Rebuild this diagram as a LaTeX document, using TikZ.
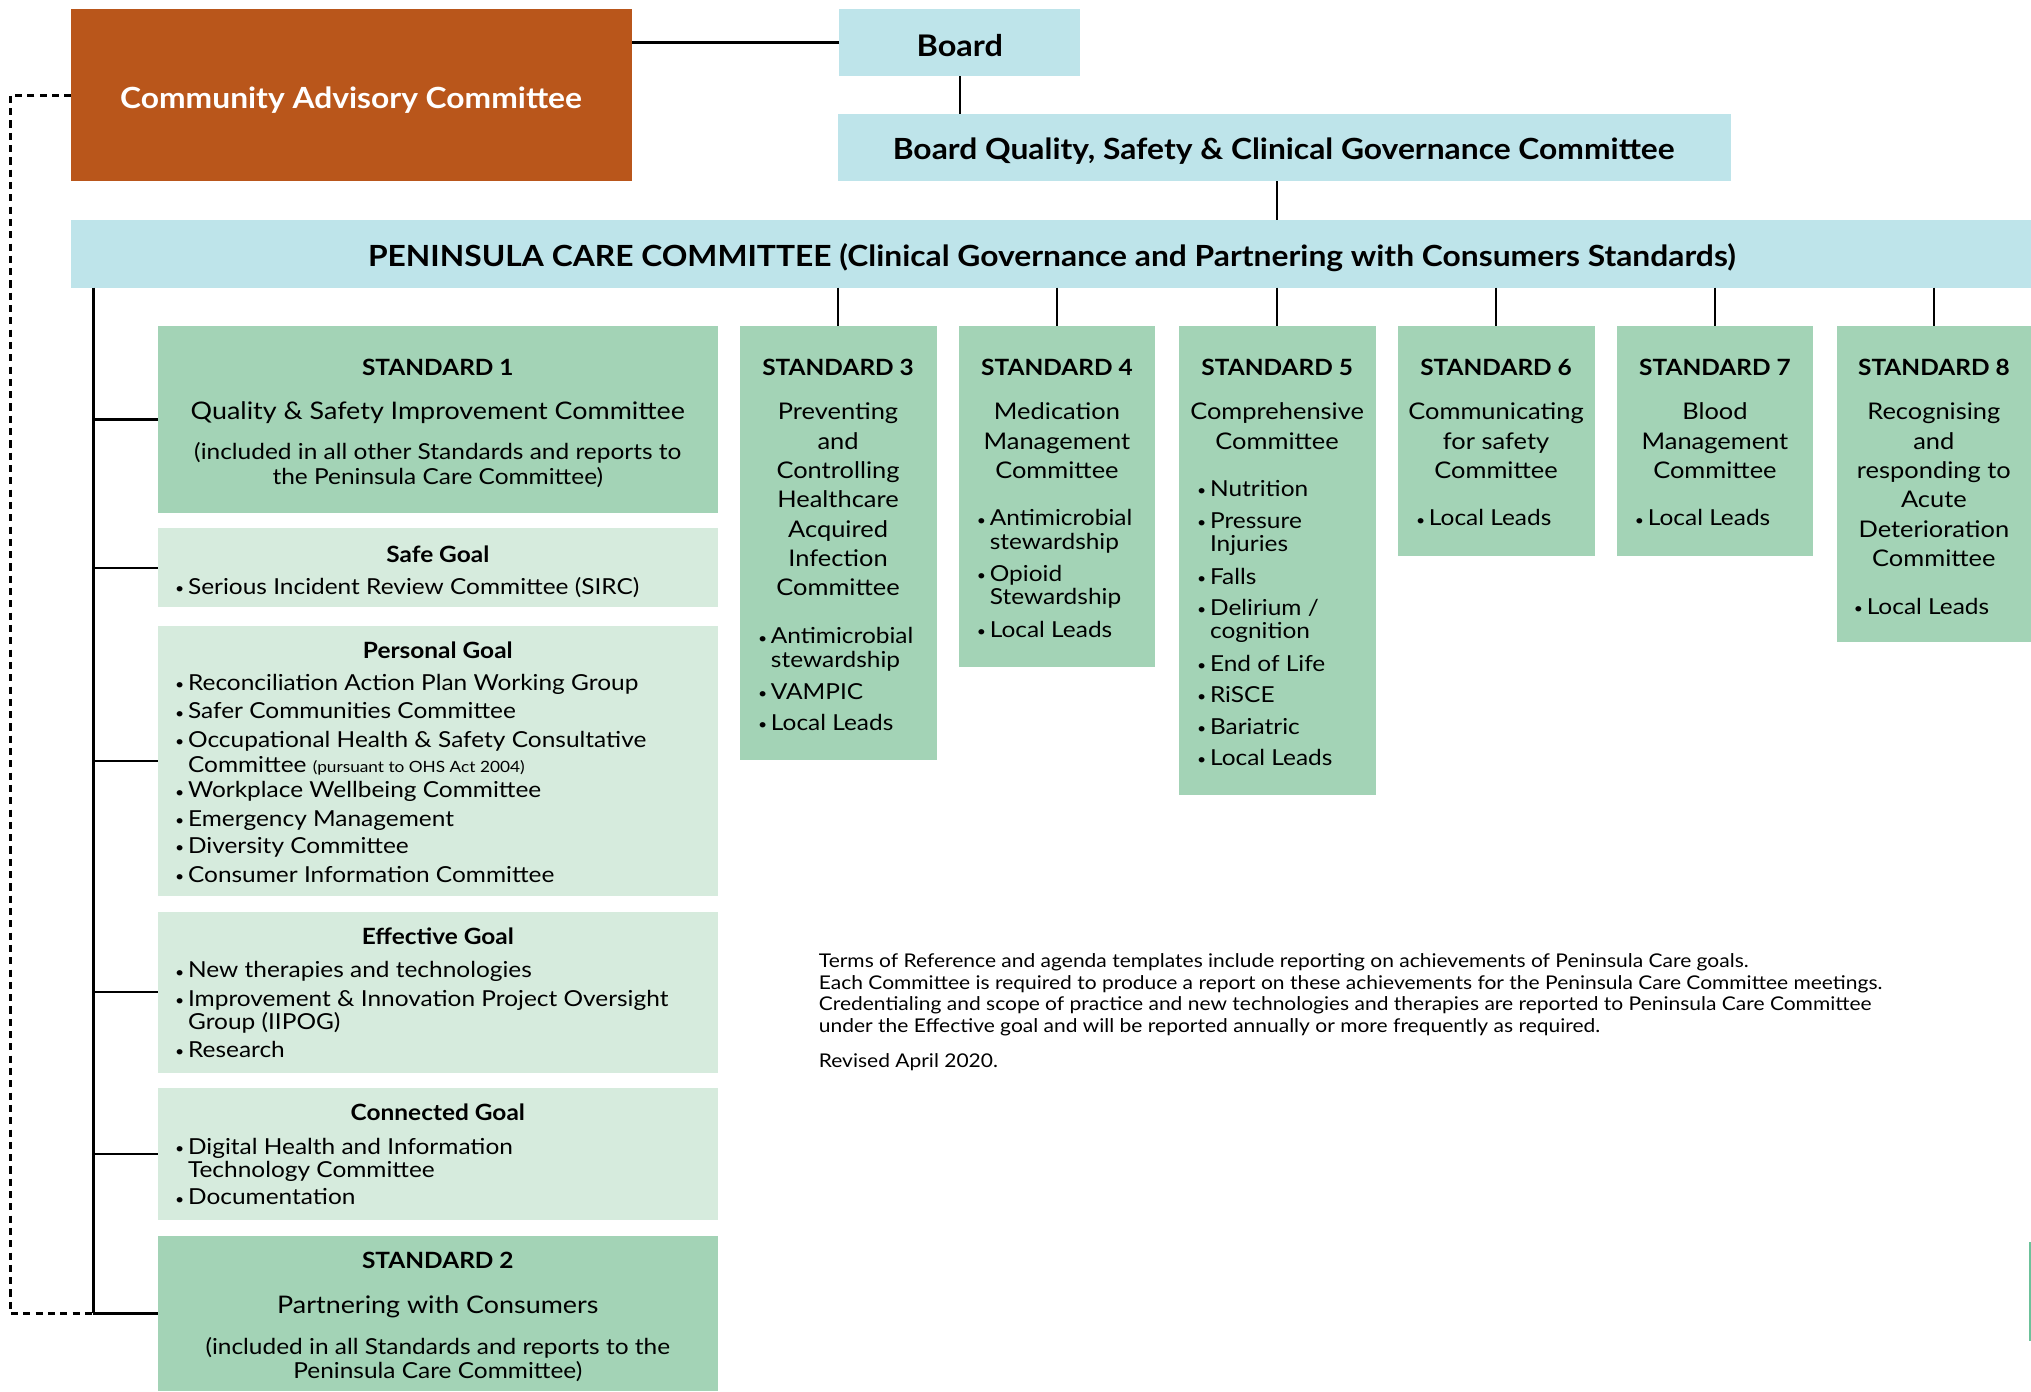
\documentclass[tikz,border=0pt]{standalone}
\usepackage{fontspec}
\setmainfont{Lato}
\newfontfamily\headfont[FakeStretch=1.09]{Lato}
\newfontfamily\bodyfont[FakeStretch=1.11]{Lato}
\definecolor{cacorange}{HTML}{B9561B}
\definecolor{govblue}{HTML}{BEE4EA}
\definecolor{stdgreen}{HTML}{A3D3B6}
\definecolor{goalgreen}{HTML}{D6EBDD}
\definecolor{bargreen}{HTML}{6CC29A}

\newcounter{tl}
% centred line of text
\newcommand\ct[4][]{\stepcounter{tl}\node[txt,anchor=mid,#1] (tl\arabic{tl}) at (#2,#3+3.5) {#4};}
% left-aligned line of text
\newcommand\lt[4][]{\stepcounter{tl}\node[txt,anchor=mid west,#1] (tl\arabic{tl}) at (#2,#3+3.5) {#4};}
% bulleted item: small bullet, then text
\newcommand\bt[3]{\stepcounter{tl}\node[txt,anchor=mid west,font=\bodyfont\fontsize{11}{11}\selectfont] (tl\arabic{tl}) at (#1,#2+3) {•};%
  \stepcounter{tl}\node[txt,anchor=mid west] (tl\arabic{tl}) at (#1+10,#2+3.5) {#3};}
% filled box: name, colour, x, y (top), width, height
\newcommand\rbox[6]{\node[boxbase,fill=#2,minimum width=#5pt,minimum height=#6pt] (#1) at (#3,#4) {};}

\begin{document}
\begin{tikzpicture}[x=1pt,y=-1pt,
  txt/.style={inner sep=0pt,font=\bodyfont\fontsize{17}{20}\selectfont},
  head/.style={inner sep=0pt,font=\headfont\fontsize{22.5}{26}\selectfont\bfseries},
  stdtitle/.style={font=\headfont\fontsize{17.3}{20}\selectfont\bfseries},
  big/.style={font=\bodyfont\fontsize{18.7}{22}\selectfont},
  col/.style={font=\bodyfont\fontsize{17.7}{22}\selectfont},
  note/.style={font=\bodyfont\fontsize{14.6}{17}\selectfont},
  boxbase/.style={draw=none,inner sep=0pt,outer sep=0pt,anchor=north west},
  conn/.style={line width=2pt,black},
  dashconn/.style={line width=2.1pt,black,dash pattern=on 5.5pt off 4pt}]
\useasboundingbox (0,0) rectangle (1568,1074);

% ---- governance boxes
\rbox{cac}{cacorange}{55}{7}{433}{133}
\rbox{board}{govblue}{648}{7}{186}{52}
\rbox{bq}{govblue}{647}{88}{689}{52}
\rbox{pcc}{govblue}{55}{170}{1513}{52}

% ---- left-hand column
\rbox{std1}{stdgreen}{122}{252}{432}{144}
\rbox{safe}{goalgreen}{122}{408}{432}{61}
\rbox{personal}{goalgreen}{122}{483}{432}{209}
\rbox{effective}{goalgreen}{122}{704}{432}{124}
\rbox{connected}{goalgreen}{122}{840}{432}{102}
\rbox{std2}{stdgreen}{122}{954}{432}{120}

% ---- standards 3 to 8
\rbox{std3}{stdgreen}{571}{252}{152}{335}
\rbox{std4}{stdgreen}{740}{252}{152}{263}
\rbox{std5}{stdgreen}{910}{252}{152}{362}
\rbox{std6}{stdgreen}{1079}{252}{152}{177}
\rbox{std7}{stdgreen}{1248}{252}{152}{177}
\rbox{std8}{stdgreen}{1418}{252}{150}{244}
\rbox{edgebar}{bargreen}{1566.5}{959}{1.5}{76}

% ---- connectors
\coordinate (sp) at (72,0);
\coordinate (dx) at (8,0);
\draw[conn] (board.west) -- (board.west -| cac.east);
\draw[conn] (board.south) -- (board.south |- bq.north);
\draw[conn] (std5.north |- bq.south) -- (std5.north |- pcc.north);
\foreach \s in {std3,std4,std5,std6,std7,std8}
  \draw[conn] (\s.north |- pcc.south) -- (\s.north);
\draw[conn] (sp |- pcc.south) -- (sp |- std2.west);
\foreach \s in {std1,safe,personal,effective,connected,std2}
  \draw[conn] (sp |- \s.west) -- (\s.west);
\draw[dashconn] (cac.west) -| (dx |- std2.west) -- (sp |- std2.west);

% ---- governance labels
\node[head,text=white] (cactext) at (271,77) {Community Advisory Committee};
\node[head,font=\headfont\fontsize{23}{26}\selectfont\bfseries] (boardtext) at (741,35) {Board};
\node[head] (bqtext) at (991,117) {Board Quality, Safety \& Clinical Governance Committee};
\node[head] (pcctext) at (812,199) {PENINSULA CARE COMMITTEE (Clinical Governance and Partnering with Consumers Standards)};

% ---- Standard 1
\ct[stdtitle]{338}{284}{STANDARD 1}
\ct[big]{338}{318}{Quality \& Safety Improvement Committee}
\ct{338}{349}{(included in all other Standards and reports to}
\ct{338}{368}{the Peninsula Care Committee)}

% ---- Safe Goal
\ct[stdtitle]{338}{428}{Safe Goal}
\bt{135}{453}{Serious Incident Review Committee (SIRC)}

% ---- Personal Goal
\ct[stdtitle]{338}{502}{Personal Goal}
\bt{135}{527}{Reconciliation Action Plan Working Group}
\bt{135}{549}{Safer Communities Committee}
\bt{135}{571}{Occupational Health \& Safety Consultative}
\lt{145}{590}{Committee {\fontsize{12}{13}\selectfont (pursuant to OHS Act 2004)}}
\bt{135}{610}{Workplace Wellbeing Committee}
\bt{135}{632}{Emergency Management}
\bt{135}{653}{Diversity Committee}
\bt{135}{675}{Consumer Information Committee}

% ---- Effective Goal
\ct[stdtitle]{338}{723}{Effective Goal}
\bt{135}{749}{New therapies and technologies}
\bt{135}{771}{Improvement \& Innovation Project Oversight}
\lt{145}{789}{Group (IIPOG)}
\bt{135}{810}{Research}

% ---- Connected Goal
\ct[stdtitle]{338}{859}{Connected Goal}
\bt{135}{885}{Digital Health and Information}
\lt{145}{903}{Technology Committee}
\bt{135}{924}{Documentation}

% ---- Standard 2
\ct[stdtitle]{338}{973}{STANDARD 2}
\ct[big]{338}{1008}{Partnering with Consumers}
\ct{338}{1040}{(included in all Standards and reports to the}
\ct{338}{1058}{Peninsula Care Committee)}

% ---- Standard 3
\ct[stdtitle]{647}{284}{STANDARD 3}
\ct[col]{647}{318}{Preventing}
\ct[col]{647}{341}{and}
\ct[col]{647}{363}{Controlling}
\ct[col]{647}{386}{Healthcare}
\ct[col]{647}{409}{Acquired}
\ct[col]{647}{431}{Infection}
\ct[col]{647}{454}{Committee}
\bt{585}{491}{Antimicrobial}
\lt{595}{509}{stewardship}
\bt{585}{534}{VAMPIC}
\bt{585}{558}{Local Leads}

% ---- Standard 4
\ct[stdtitle]{816}{284}{STANDARD 4}
\ct[col]{816}{318}{Medication}
\ct[col]{816}{341}{Management}
\ct[col]{816}{363}{Committee}
\bt{754}{400}{Antimicrobial}
\lt{764}{418}{stewardship}
\bt{754}{443}{Opioid}
\lt{764}{461}{Stewardship}
\bt{754}{486}{Local Leads}

% ---- Standard 5
\ct[stdtitle]{986}{284}{STANDARD 5}
\ct[col]{986}{318}{Comprehensive}
\ct[col]{986}{341}{Committee}
\bt{924}{377}{Nutrition}
\bt{924}{402}{Pressure}
\lt{934}{420}{Injuries}
\bt{924}{445}{Falls}
\bt{924}{469}{Delirium /}
\lt{934}{487}{cognition}
\bt{924}{512}{End of Life}
\bt{924}{536}{RiSCE}
\bt{924}{561}{Bariatric}
\bt{924}{585}{Local Leads}

% ---- Standard 6
\ct[stdtitle]{1155}{284}{STANDARD 6}
\ct[col]{1155}{318}{Communicating}
\ct[col]{1155}{341}{for safety}
\ct[col]{1155}{363}{Committee}
\bt{1093}{400}{Local Leads}

% ---- Standard 7
\ct[stdtitle]{1324}{284}{STANDARD 7}
\ct[col]{1324}{318}{Blood}
\ct[col]{1324}{341}{Management}
\ct[col]{1324}{363}{Committee}
\bt{1262}{400}{Local Leads}

% ---- Standard 8
\ct[stdtitle]{1493}{284}{STANDARD 8}
\ct[col]{1493}{318}{Recognising}
\ct[col]{1493}{341}{and}
\ct[col]{1493}{363}{responding to}
\ct[col]{1493}{386}{Acute}
\ct[col]{1493}{409}{Deterioration}
\ct[col]{1493}{431}{Committee}
\bt{1431}{468}{Local Leads}

% ---- notes
\lt[note]{632}{741}{Terms of Reference and agenda templates include reporting on achievements of Peninsula Care goals.}
\lt[note]{632}{758}{Each Committee is required to produce a report on these achievements for the Peninsula Care Committee meetings.}
\lt[note]{632}{774}{Credentialing and scope of practice and new technologies and therapies are reported to Peninsula Care Committee}
\lt[note]{632}{791}{under the Effective goal and will be reported annually or more frequently as required.}
\lt[note]{632}{818}{Revised April 2020.}
\end{tikzpicture}
\end{document}
